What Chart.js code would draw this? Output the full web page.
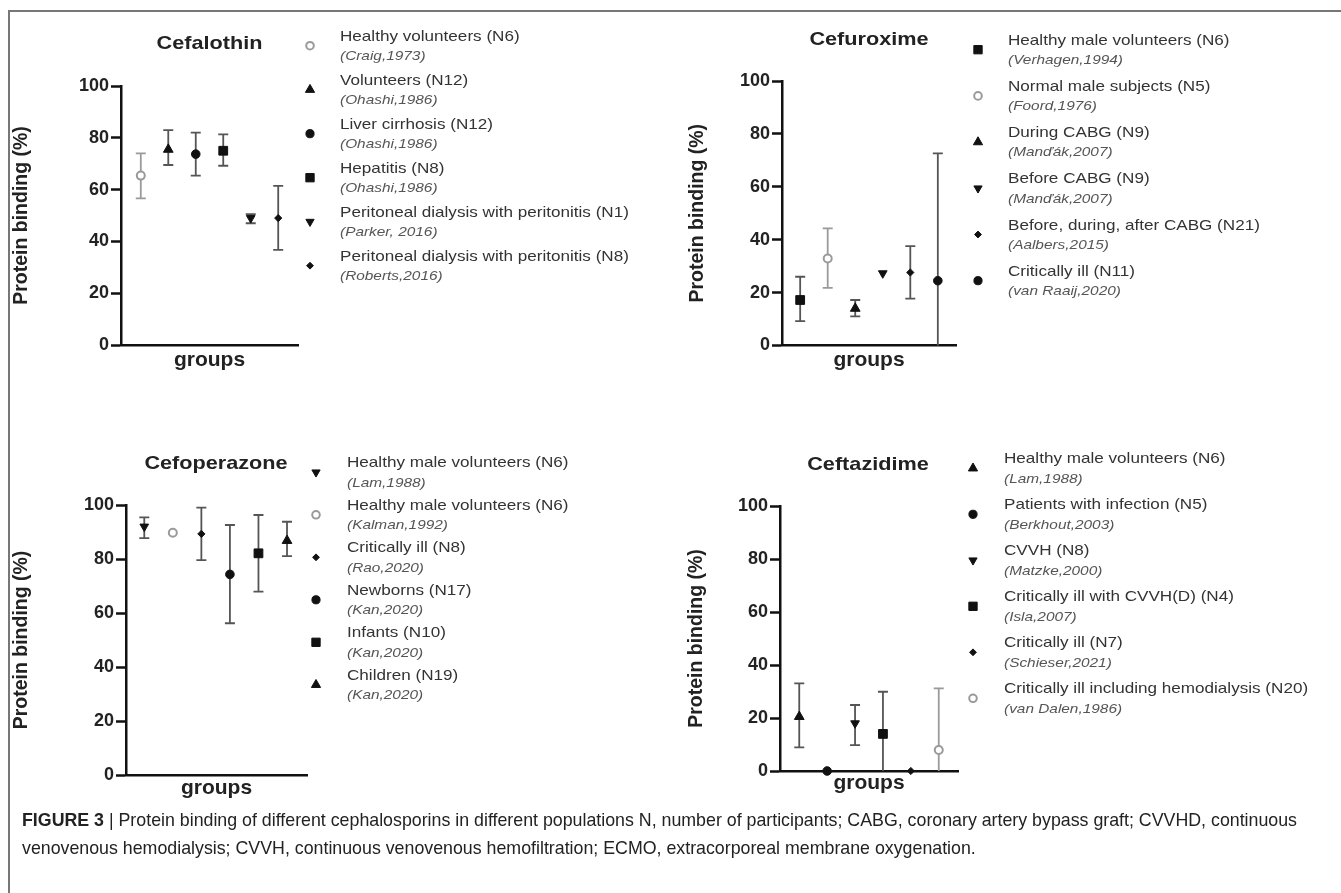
<!DOCTYPE html>
<html>
<head>
<meta charset="utf-8">
<title>Protein binding of cephalosporins</title>
<script src="https://cdn.jsdelivr.net/npm/chart.js@4.4.1/dist/chart.umd.min.js"></script>
<style>
  html, body { margin: 0; padding: 0; background: #fff; }
  body { width: 1341px; height: 893px; position: relative; overflow: hidden; font-family: "Liberation Sans", Arial, sans-serif; }
  .frame { position: absolute; left: 8px; top: 10px; right: 0; bottom: 0; border-top: 2px solid #777; border-left: 2px solid #777; }
  canvas.panel { position: absolute; left: 0; top: 0; }
  .caption { position: absolute; left: 22px; top: 806px; font-size: 17.8px; line-height: 28px; color: #222; white-space: nowrap; }
</style>
</head>
<body>
<div class="frame"></div>
<canvas class="panel" id="cefalothin" width="1341" height="893"></canvas>
<canvas class="panel" id="cefuroxime" width="1341" height="893"></canvas>
<canvas class="panel" id="cefoperazone" width="1341" height="893"></canvas>
<canvas class="panel" id="ceftazidime" width="1341" height="893"></canvas>
<div class="caption"><b>FIGURE 3</b> | Protein binding of different cephalosporins in different populations N, number of participants; CABG, coronary artery bypass graft; CVVHD, continuous<br>venovenous hemodialysis; CVVH, continuous venovenous hemofiltration; ECMO, extracorporeal membrane oxygenation.</div>

<script>
// ---- data (protein binding %, mean with low/high of the range) ----
const yTicks = [0, 20, 40, 60, 80, 100];

const cefalothinGroups = ['Healthy volunteers (N6)', 'Volunteers (N12)', 'Liver cirrhosis (N12)', 'Hepatitis (N8)',
  'Peritoneal dialysis with peritonitis (N1)', 'Peritoneal dialysis with peritonitis (N8)'];
const cefalothinRefs = ['(Craig,1973)', '(Ohashi,1986)', '(Ohashi,1986)', '(Ohashi,1986)', '(Parker, 2016)', '(Roberts,2016)'];
const cefalothinMean = [65.4, 75.5, 73.7, 75, 49, 49];
const cefalothinLow = [56.6, 69.5, 65.4, 69.2, 47, 36.7];
const cefalothinHigh = [74, 83, 82, 81.3, 50.5, 61.4];

const cefuroximeGroups = ['Healthy male volunteers (N6)', 'Normal male subjects (N5)', 'During CABG (N9)', 'Before CABG (N9)',
  'Before, during, after CABG (N21)', 'Critically ill (N11)'];
const cefuroximeRefs = ['(Verhagen,1994)', '(Foord,1976)', '(Manďák,2007)', '(Manďák,2007)', '(Aalbers,2015)', '(van Raaij,2020)'];
const cefuroximeMean = [17.2, 32.9, 14, 27.3, 27.6, 24.5];
const cefuroximeLow = [9.2, 21.8, 11, 27.3, 17.7, 0];
const cefuroximeHigh = [26, 44.3, 17.2, 27.3, 37.6, 72.6];

const cefoperazoneGroups = ['Healthy male volunteers (N6)', 'Healthy male volunteers (N6)', 'Critically ill (N8)', 'Newborns (N17)',
  'Infants (N10)', 'Children (N19)'];
const cefoperazoneRefs = ['(Lam,1988)', '(Kalman,1992)', '(Rao,2020)', '(Kan,2020)', '(Kan,2020)', '(Kan,2020)'];
const cefoperazoneMean = [92, 89.7, 89.3, 74.3, 82.1, 86.8];
const cefoperazoneLow = [87.7, 89.7, 79.6, 56.2, 67.9, 81.1];
const cefoperazoneHigh = [95.4, 89.7, 99, 92.6, 96.3, 93.8];

const ceftazidimeGroups = ['Healthy male volunteers (N6)', 'Patients with infection (N5)', 'CVVH (N8)', 'Critically ill with CVVH(D) (N4)',
  'Critically ill (N7)', 'Critically ill including hemodialysis (N20)'];
const ceftazidimeRefs = ['(Lam,1988)', '(Berkhout,2003)', '(Matzke,2000)', '(Isla,2007)', '(Schieser,2021)', '(van Dalen,1986)'];
const ceftazidimeMean = [20.5, 0, 18, 14, 0, 7.9];
const ceftazidimeLow = [8.9, 0, 9.8, 0, 0, 0];
const ceftazidimeHigh = [33.1, 0, 24.9, 29.9, 0, 31.2];

// ---- marker looks ----
const FONT = '"Liberation Sans", Arial, sans-serif';
const MARKERS = {
  open:     { style: 'circle',   r: 4,   rot: 0,   fill: '#fff',  stroke: '#9a9a9a', bw: 2, bar: '#9a9a9a' },
  circle:   { style: 'circle',   r: 4.3, rot: 0,   fill: '#111',  stroke: '#111', bw: 1, bar: '#555' },
  triangle: { style: 'triangle', r: 5.6, rot: 0,   fill: '#111',  stroke: '#111', bw: 1, bar: '#555' },
  down:     { style: 'triangle', r: 5,   rot: 180, fill: '#111',  stroke: '#111', bw: 1, bar: '#555' },
  rect:     { style: 'rect',     r: 6.2, rot: 0,   fill: '#111',  stroke: '#111', bw: 1, bar: '#555' },
  diamond:  { style: 'rectRot',  r: 3.6, rot: 0,   fill: '#111',  stroke: '#111', bw: 1, bar: '#555' }
};

const panels = [
  { id: 'cefalothin', title: 'Cefalothin', groups: cefalothinGroups, refs: cefalothinRefs,
    mean: cefalothinMean, low: cefalothinLow, high: cefalothinHigh,
    markers: ['open', 'triangle', 'circle', 'rect', 'down', 'diamond'],
    area: { left: 121, right: 298, top: 86, bottom: 345 }, xMin: 0.28, xMax: 6.72,
    yTitleX: 22, groupsY: 360, titleX: 209.5, titleY: 44,
    legendX: 310, textX: 340, legendTop: 36.7, legendStep: 44 },
  { id: 'cefuroxime', title: 'Cefuroxime', groups: cefuroximeGroups, refs: cefuroximeRefs,
    mean: cefuroximeMean, low: cefuroximeLow, high: cefuroximeHigh,
    markers: ['rect', 'open', 'triangle', 'down', 'diamond', 'circle'],
    area: { left: 782, right: 956, top: 81, bottom: 345.5 }, xMin: 0.34, xMax: 6.66,
    yTitleX: 698, groupsY: 360, titleX: 869, titleY: 40,
    legendX: 978, textX: 1008, legendTop: 40.7, legendStep: 46.2 },
  { id: 'cefoperazone', title: 'Cefoperazone', groups: cefoperazoneGroups, refs: cefoperazoneRefs,
    mean: cefoperazoneMean, low: cefoperazoneLow, high: cefoperazoneHigh,
    markers: ['down', 'open', 'diamond', 'circle', 'rect', 'triangle'],
    area: { left: 126, right: 307, top: 505, bottom: 775 }, xMin: 0.36, xMax: 6.70,
    yTitleX: 22, groupsY: 788, titleX: 216, titleY: 463.5,
    legendX: 316, textX: 347, legendTop: 463.3, legendStep: 42.5 },
  { id: 'ceftazidime', title: 'Ceftazidime', groups: ceftazidimeGroups, refs: ceftazidimeRefs,
    mean: ceftazidimeMean, low: ceftazidimeLow, high: ceftazidimeHigh,
    markers: ['triangle', 'circle', 'down', 'rect', 'diamond', 'open'],
    area: { left: 780, right: 958, top: 506, bottom: 771 }, xMin: 0.31, xMax: 6.69,
    yTitleX: 697, groupsY: 783, titleX: 868, titleY: 465,
    legendX: 973, textX: 1004, legendTop: 459.3, legendStep: 46 }
];

// text drawn a bit wider than the font, like the scanned figure
function stretchText(ctx, text, x, y, font, color, align) {
  ctx.save();
  ctx.translate(x, y);
  ctx.scale(1.14, 1);
  ctx.font = font;
  ctx.fillStyle = color;
  ctx.textAlign = align;
  ctx.textBaseline = 'middle';
  ctx.fillText(text, 0, 0);
  ctx.restore();
}

function drawMarker(ctx, m, x, y, k) {
  const r = m.r * k;
  ctx.beginPath();
  if (m.style === 'circle') {
    ctx.arc(x, y, r, 0, Math.PI * 2);
  } else if (m.style === 'rect') {
    const h = r * Math.SQRT1_2;
    ctx.rect(x - h, y - h, 2 * h, 2 * h);
  } else if (m.style === 'rectRot') {
    ctx.moveTo(x, y - r); ctx.lineTo(x + r, y); ctx.lineTo(x, y + r); ctx.lineTo(x - r, y);
    ctx.closePath();
  } else {
    const a0 = m.rot * Math.PI / 180;
    for (let j = 0; j < 3; j++) {
      const a = a0 + j * 2 * Math.PI / 3;
      const px = x + Math.sin(a) * r, py = y - Math.cos(a) * r;
      if (j) ctx.lineTo(px, py); else ctx.moveTo(px, py);
    }
    ctx.closePath();
  }
  ctx.fillStyle = m.fill;
  ctx.fill();
  ctx.lineWidth = m.bw;
  ctx.strokeStyle = m.stroke;
  ctx.stroke();
}

function errorBars(p) {
  return {
    id: 'errorBars',
    beforeDatasetsDraw(chart) {
      const { ctx, scales: { x, y } } = chart;
      ctx.save();
      ctx.lineWidth = 1.8;
      p.mean.forEach((v, i) => {
        if (p.high[i] - p.low[i] < 0.5) return;
        const px = x.getPixelForValue(i + 1);
        const top = y.getPixelForValue(p.high[i]);
        const bot = y.getPixelForValue(p.low[i]);
        ctx.strokeStyle = MARKERS[p.markers[i]].bar;
        ctx.beginPath();
        ctx.moveTo(px, top); ctx.lineTo(px, bot);
        ctx.moveTo(px - 5, top); ctx.lineTo(px + 5, top);
        if (p.low[i] > 0) { ctx.moveTo(px - 5, bot); ctx.lineTo(px + 5, bot); }
        ctx.stroke();
      });
      ctx.restore();
    }
  };
}

function figureText(p) {
  return {
    id: 'figureText',
    afterDraw(chart) {
      const ctx = chart.ctx;
      stretchText(ctx, p.title, p.titleX, p.titleY, 'bold 19px ' + FONT, '#222', 'center');
      p.groups.forEach((g, i) => {
        const y = p.legendTop + i * p.legendStep;
        drawMarker(ctx, MARKERS[p.markers[i]], p.legendX, y + 9, 0.95);
        stretchText(ctx, g, p.textX, y, '15px ' + FONT, '#333', 'left');
        stretchText(ctx, p.refs[i], p.textX, y + 19.5, 'italic 13.5px ' + FONT, '#555', 'left');
      });
    }
  };
}

function makePanel(p) {
  const looks = p.markers.map(m => MARKERS[m]);
  const padLeft = p.yTitleX - 11.7;
  const xAxisH = p.groupsY - p.area.bottom + 12.6;
  new Chart(document.getElementById(p.id), {
    type: 'scatter',
    data: {
      datasets: [{
        data: p.mean.map((v, i) => ({ x: i + 1, y: v })),
        pointStyle: looks.map(l => l.style),
        pointRadius: looks.map(l => l.r),
        pointRotation: looks.map(l => l.rot),
        pointBackgroundColor: looks.map(l => l.fill),
        pointBorderColor: looks.map(l => l.stroke),
        pointBorderWidth: looks.map(l => l.bw),
        clip: false
      }]
    },
    options: {
      responsive: false,
      animation: false,
      events: [],
      layout: { padding: { left: padLeft, top: p.area.top, right: 1341 - p.area.right, bottom: 893 - p.area.bottom - xAxisH } },
      plugins: { legend: { display: false }, tooltip: { enabled: false } },
      scales: {
        x: {
          type: 'linear', min: p.xMin, max: p.xMax,
          ticks: { display: false },
          grid: { display: false },
          border: { color: '#111', width: 2.5 },
          title: { display: true, text: 'groups', color: '#222', font: { family: FONT, size: 21, weight: 'bold' }, padding: 0 },
          afterFit(s) { s.height = xAxisH; }
        },
        y: {
          min: 0, max: 100,
          afterBuildTicks(s) { s.ticks = yTicks.map(v => ({ value: v })); },
          ticks: { color: '#222', padding: 2, font: { family: FONT, size: 18, weight: 'bold' } },
          grid: { drawOnChartArea: false, tickLength: 10, tickWidth: 2.5, tickColor: '#111' },
          border: { color: '#111', width: 2.5 },
          title: { display: true, text: 'Protein binding (%)', color: '#222', font: { family: FONT, size: 19.5, weight: 'bold' }, padding: 0 },
          afterFit(s) { s.width = p.area.left - padLeft; }
        }
      }
    },
    plugins: [errorBars(p), figureText(p)]
  });
}

panels.forEach(makePanel);
</script>
</body>
</html>
